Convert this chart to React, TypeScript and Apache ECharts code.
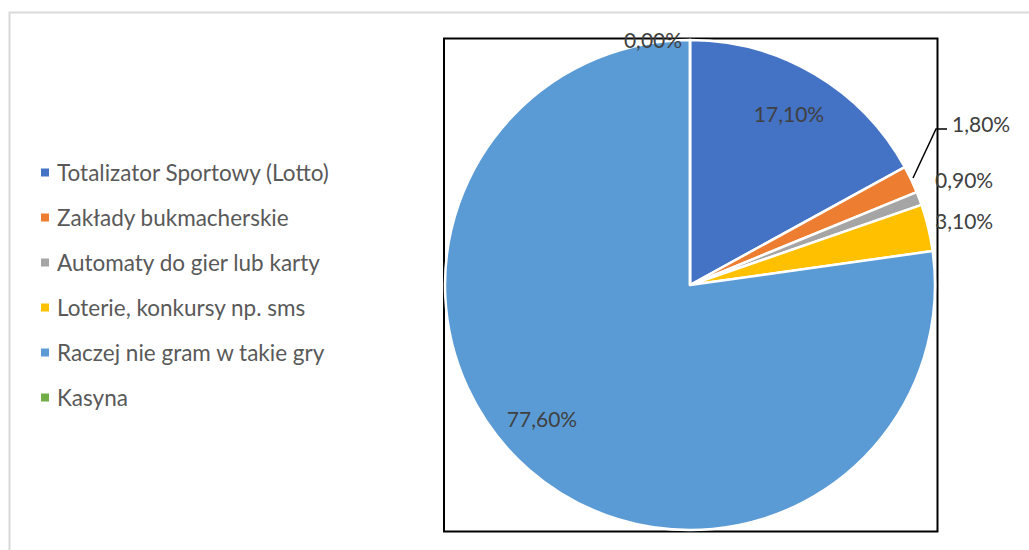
import React, { useEffect, useRef } from "react";
import * as echarts from "echarts";

const categories = [
  "Totalizator Sportowy (Lotto)",
  "Zakłady bukmacherskie",
  "Automaty do gier lub karty",
  "Loterie, konkursy np. sms",
  "Raczej nie gram w takie gry",
  "Kasyna",
];
const values = [17.1, 1.8, 0.9, 3.1, 77.6, 0.0];
const colors = ["#4472C4", "#ED7D31", "#A5A5A5", "#FFC000", "#5B9BD5", "#70AD47"];

const FONT = "Lato";

// label placement (layout only)
const labelPos: Array<{ x: number; y: number; align: string }> = [
  { x: 789, y: 113, align: "center" },
  { x: 952, y: 123, align: "left" },
  { x: 935, y: 179, align: "left" },
  { x: 935, y: 220, align: "left" },
  { x: 542, y: 418, align: "center" },
  { x: 653, y: 39, align: "center" },
];

export default function App() {
  const ref = useRef<HTMLDivElement>(null);
  useEffect(() => {
    document.body.style.margin = "0";
    const chart = echarts.init(ref.current!, null, { renderer: "svg" });
    const data = categories.map((name, i) => ({
      name,
      value: values[i],
      itemStyle: { color: colors[i] },
      labelLine: { show: i === 1, lineStyle: { color: "#000", width: 1.5 } },
    }));
    chart.setOption({
      animation: false,
      backgroundColor: "#fff",
      graphic: [
        {
          type: "rect",
          z: -10,
          shape: { x: 9.5, y: 12.5, width: 1100, height: 600 },
          style: { fill: "#fff", stroke: "#D9D9D9", lineWidth: 2 },
        },
        {
          type: "rect",
          z: 0,
          shape: { x: 444, y: 38.5, width: 493.5, height: 493 },
          style: { fill: "none", stroke: "#000", lineWidth: 2 },
        },
      ],
      legend: {
        orient: "vertical",
        left: 39,
        top: 161,
        padding: 0,
        itemWidth: 10,
        itemHeight: 10,
        itemGap: 22,
        icon: "rect",
        data: categories,
        textStyle: { fontFamily: FONT, fontSize: 22.5, color: "#595959", padding: [0, 0, 0, 2] },
      },
      series: [
        {
          type: "pie",
          center: [690, 285],
          radius: 245,
          startAngle: 90,
          clockwise: true,
          avoidLabelOverlap: false,
          itemStyle: { borderColor: "#fff", borderWidth: 2.5 },
          label: {
            show: true,
            position: "outside",
            formatter: (p: any) => p.value.toFixed(2).replace(".", ",") + "%",
            fontFamily: FONT,
            fontSize: 21,
            color: "#404040",
          },
          labelLine: { show: false },
          labelLayout: (p: any) => {
            const lp = labelPos[p.dataIndex];
            const res: any = { x: lp.x, y: lp.y, align: lp.align, verticalAlign: "middle" };
            if (p.dataIndex === 1) {
              res.labelLinePoints = [
                [913, 178],
                [936, 129],
                [947, 129],
              ];
            }
            return res;
          },
          data,
        },
      ],
    });
    return () => chart.dispose();
  }, []);
  return <div ref={ref} style={{ width: 1029, height: 550 }} />;
}
